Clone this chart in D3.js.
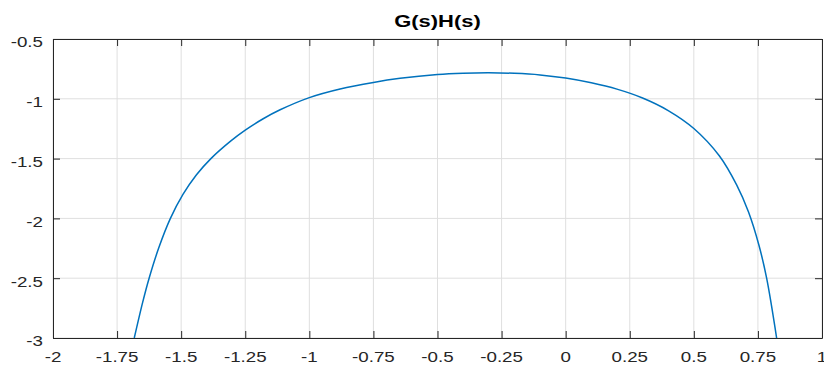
<!DOCTYPE html>
<html>
<head>
<meta charset="utf-8">
<script src="https://cdn.jsdelivr.net/npm/d3@7"></script>
<style>
  html, body { margin: 0; padding: 0; background: #fff; }
  svg { display: block; font-family: Arial, "Liberation Sans", Helvetica, sans-serif; }
</style>
</head>
<body>
<svg id="chart" width="824" height="370"></svg>
<script>
// ---- data ----
const title = "G(s)H(s)";
const xTicks = [-2, -1.75, -1.5, -1.25, -1, -0.75, -0.5, -0.25, 0, 0.25, 0.5, 0.75, 1];
const yTicks = [-0.5, -1, -1.5, -2, -2.5, -3];
const xDomain = [-2, 1];
const yDomain = [-3, -0.5];
const curveX = [-1.683, -1.650, -1.625, -1.588, -1.542, -1.493, -1.441, -1.384, -1.306, -1.250, -1.180, -1.114, -1.000, -0.880, -0.750, -0.646, -0.500, -0.400, -0.300, -0.200, -0.100, 0.000, 0.100, 0.200, 0.300, 0.400, 0.500, 0.600, 0.667, 0.713, 0.754, 0.784, 0.823];
const curveY = [-3.000, -2.700, -2.500, -2.250, -2.000, -1.800, -1.637, -1.500, -1.352, -1.262, -1.167, -1.092, -0.990, -0.918, -0.863, -0.829, -0.797, -0.786, -0.782, -0.787, -0.800, -0.826, -0.866, -0.919, -0.993, -1.098, -1.248, -1.478, -1.720, -1.945, -2.225, -2.500, -3.000];

// ---- layout ----
const svg = d3.select("#chart");
const L = 53, R = 822, T = 39, B = 338;
const x = d3.scaleLinear().domain(xDomain).range([L, R]);
const y = d3.scaleLinear().domain(yDomain).range([B, T]);
const axisColor = "#262626";
const gridColor = "#dfdfdf";
const fontFamily = "Arial, 'Liberation Sans', Helvetica, sans-serif";
const tickFont = 15, stretch = 1.25;

// grid
const grid = svg.append("g");
grid.selectAll("line.gx").data(xTicks).join("line")
  .attr("x1", d => x(d)).attr("x2", d => x(d))
  .attr("y1", T).attr("y2", B)
  .attr("stroke", gridColor).attr("stroke-width", 1);
grid.selectAll("line.gy").data(yTicks).join("line")
  .attr("x1", L).attr("x2", R)
  .attr("y1", d => y(d)).attr("y2", d => y(d))
  .attr("stroke", gridColor).attr("stroke-width", 1);

// curve
const pts = curveX.map((v, i) => [v, curveY[i]]);
svg.append("clipPath").attr("id", "plotclip").append("rect")
  .attr("x", L).attr("y", T).attr("width", R - L).attr("height", B - T);
svg.append("path")
  .datum(pts)
  .attr("clip-path", "url(#plotclip)")
  .attr("fill", "none")
  .attr("stroke", "#0072BD")
  .attr("stroke-width", 1.5)
  .attr("d", d3.line().x(d => x(d[0])).y(d => y(d[1])).curve(d3.curveCatmullRom.alpha(0.5)));

// axes (MATLAB box style, inward ticks); labels drawn separately
const tickLen = 7;
const axB = d3.axisBottom(x).tickValues(xTicks).tickSizeInner(-tickLen).tickSizeOuter(0).tickFormat("");
const axT = d3.axisTop(x).tickValues(xTicks).tickSizeInner(-tickLen).tickSizeOuter(0).tickFormat("");
const axL = d3.axisLeft(y).tickValues(yTicks).tickSizeInner(-tickLen).tickSizeOuter(0).tickFormat("");
const axR = d3.axisRight(y).tickValues(yTicks).tickSizeInner(-tickLen).tickSizeOuter(0).tickFormat("");
function style(g) {
  g.selectAll("path.domain").attr("stroke", axisColor).attr("stroke-width", 1);
  g.selectAll(".tick line").attr("stroke", axisColor).attr("stroke-width", 1);
}
svg.append("g").attr("transform", `translate(0,${B})`).call(axB).call(style);
svg.append("g").attr("transform", `translate(0,${T})`).call(axT).call(style);
svg.append("g").attr("transform", `translate(${L},0)`).call(axL).call(style);
svg.append("g").attr("transform", `translate(${R},0)`).call(axR).call(style);

// tick labels (horizontally widened to match reference glyph proportions)
svg.append("g").selectAll("text").data(xTicks).join("text")
  .attr("transform", d => `translate(${x(d)},362) scale(${stretch},1)`)
  .attr("text-anchor", "middle")
  .attr("fill", axisColor)
  .style("font-family", fontFamily).style("font-size", tickFont + "px")
  .text(d => String(d));
svg.append("g").selectAll("text").data(yTicks).join("text")
  .attr("transform", d => `translate(43,${y(d) + 8.3}) scale(${stretch},1)`)
  .attr("text-anchor", "end")
  .attr("fill", axisColor)
  .style("font-family", fontFamily).style("font-size", tickFont + "px")
  .text(d => String(d));

// title
svg.append("text")
  .attr("transform", `translate(${(L + R) / 2},27) scale(1.29,1)`)
  .attr("text-anchor", "middle")
  .attr("fill", "#000")
  .style("font-family", fontFamily)
  .style("font-size", "17px").style("font-weight", "bold")
  .text(title);
</script>
</body>
</html>
